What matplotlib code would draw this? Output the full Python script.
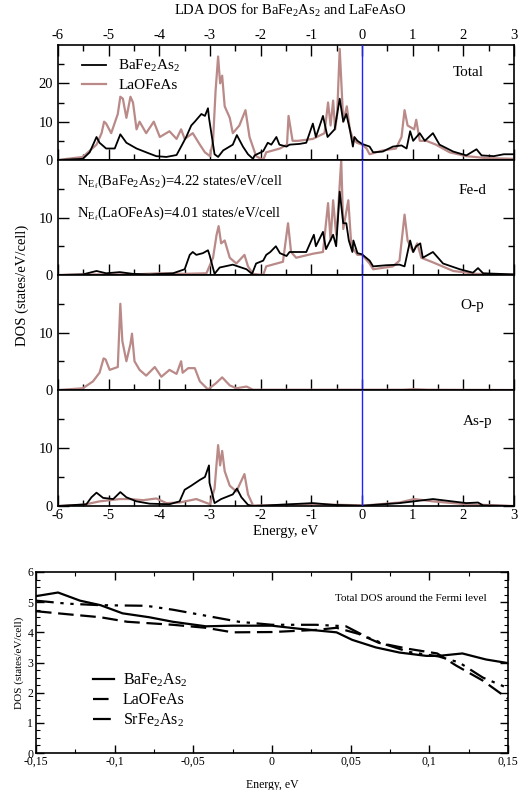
import matplotlib
matplotlib.use("Agg")
import matplotlib.pyplot as plt
from matplotlib.ticker import MultipleLocator, FixedLocator

plt.rcParams['font.family'] = ['Liberation Serif', 'DejaVu Serif']
plt.rcParams['mathtext.fontset'] = 'custom'
plt.rcParams['mathtext.rm'] = 'Liberation Serif'
plt.rcParams['mathtext.it'] = 'Liberation Serif:italic'
plt.rcParams['axes.unicode_minus'] = False

# ---------------- data ----------------
# Total DOS
tot_ba_e = [-6, -5.51, -5.375, -5.24, -5.18, -5.05, -4.88, -4.77, -4.65, -4.45, -4.22, -4.06, -3.86, -3.66,
            -3.57, -3.47, -3.37, -3.30, -3.17, -3.10, -3.04, -3.02, -2.91, -2.84, -2.74, -2.55, -2.47, -2.35,
            -2.25, -2.15, -2.12, -1.95, -1.86, -1.79, -1.69, -1.63, -1.49, -1.43, -1.23, -1.10, -0.97, -0.91,
            -0.77, -0.68, -0.54, -0.44, -0.37, -0.31, -0.24, -0.18, -0.15, -0.09, 0.0, 0.15, 0.22, 0.41,
            0.61, 0.78, 0.88, 0.95, 1.01, 1.14, 1.24, 1.40, 1.53, 1.80, 2.06, 2.26, 2.36, 2.60, 2.80, 3.0]
tot_ba_v = [0, 0.3, 2.0, 6.0, 4.5, 3.0, 3.0, 6.7, 4.5, 3.0, 1.8, 1.0, 0.8, 1.3,
            3.5, 6.0, 9.0, 10.0, 12.0, 11.5, 13.5, 11.0, 1.5, 0.8, 2.5, 4.0, 6.5, 3.5,
            1.5, 0.3, 1.2, 2.3, 4.5, 4.0, 6.0, 4.0, 3.5, 4.0, 4.2, 4.5, 9.5, 6.0,
            11.5, 6.0, 8.0, 16.0, 10.0, 12.0, 8.0, 3.5, 6.0, 5.0, 4.2, 3.5, 2.0, 2.2,
            3.5, 3.8, 3.0, 7.5, 5.0, 7.0, 5.0, 7.0, 4.0, 2.2, 1.2, 2.8, 1.2, 1.0, 1.5, 1.5]

tot_la_e = [-6, -5.51, -5.24, -5.14, -5.09, -5.05, -4.95, -4.82, -4.77, -4.72, -4.65, -4.57, -4.52, -4.45,
            -4.39, -4.26, -4.11, -3.99, -3.80, -3.66, -3.57, -3.50, -3.34, -3.20, -3.10, -3.0, -2.94, -2.89,
            -2.84, -2.80, -2.76, -2.71, -2.61, -2.55, -2.42, -2.30, -2.22, -2.09, -1.95, -1.89, -1.62, -1.48,
            -1.45, -1.37, -1.26, -0.97, -0.74, -0.67, -0.62, -0.57, -0.53, -0.49, -0.44, -0.37, -0.30, -0.24,
            -0.18, -0.10, 0.0, 0.09, 0.15, 0.41, 0.67, 0.78, 0.84, 0.90, 1.03, 1.07, 1.14, 1.27, 1.46, 1.73,
            2.06, 2.45, 3.0]
tot_la_v = [0, 0.8, 4.0, 7.0, 10.0, 9.5, 7.0, 12.0, 16.5, 16.0, 11.0, 16.5, 15.0, 8.0,
            10.0, 7.0, 10.0, 6.0, 7.5, 5.5, 8.0, 5.5, 7.0, 4.0, 2.0, 1.0, 5.0, 18.0,
            27.0, 20.0, 22.0, 14.0, 11.0, 7.0, 9.0, 13.0, 6.0, 1.0, 0.0, 2.0, 3.0, 4.0,
            11.5, 5.0, 5.0, 5.5, 7.0, 15.0, 9.0, 15.5, 8.0, 12.0, 29.0, 10.0, 14.0, 8.0,
            5.5, 4.5, 4.0, 3.0, 1.5, 2.5, 3.0, 6.0, 13.0, 9.0, 8.0, 10.5, 5.0, 5.0, 4.0, 2.0,
            1.0, 0.5, 0.3]

# Fe-d DOS
fed_ba_e = [-6, -5.51, -5.24, -5.05, -4.78, -4.52, -4.19, -3.73, -3.50, -3.40, -3.34, -3.27, -3.14, -3.04,
            -3.01, -2.91, -2.81, -2.55, -2.28, -2.17, -2.09, -1.95, -1.89, -1.81, -1.70, -1.62, -1.49, -1.43,
            -1.10, -0.95, -0.91, -0.77, -0.71, -0.57, -0.51, -0.44, -0.37, -0.31, -0.26, -0.19, -0.17, -0.09,
            0.0, 0.15, 0.22, 0.48, 0.74, 0.84, 0.95, 1.01, 1.07, 1.15, 1.20, 1.40, 1.60, 1.93, 2.19, 2.29,
            2.39, 3.0]
fed_ba_v = [0, 0.1, 0.7, 0.3, 0.5, 0.2, 0.1, 0.3, 1.0, 3.5, 4.0, 3.5, 3.8, 4.3,
            3.5, 0.2, 1.3, 1.8, 1.0, 0.2, 2.0, 2.5, 3.5, 4.0, 5.0, 3.8, 3.3, 4.0,
            4.0, 7.0, 5.0, 7.5, 4.5, 7.0, 5.0, 14.5, 9.0, 9.0, 6.0, 4.0, 6.0, 3.8,
            3.6, 2.5, 1.5, 1.7, 1.8, 1.5, 6.0, 4.0, 5.0, 5.5, 3.0, 4.0, 2.0, 1.0, 0.4, 1.2,
            0.3, 0.1]

fed_la_e = [-6, -5.5, -4.5, -3.99, -3.50, -3.07, -2.94, -2.87, -2.83, -2.78, -2.71, -2.61, -2.48, -2.32,
            -2.25, -2.15, -1.95, -1.89, -1.56, -1.46, -1.40, -1.30, -0.97, -0.77, -0.67, -0.62, -0.57,
            -0.51, -0.48, -0.41, -0.37, -0.27, -0.21, -0.09, 0.0, 0.15, 0.22, 0.61, 0.74, 0.84, 0.90, 1.01,
            1.09, 1.17, 1.40, 1.80, 2.26, 3.0]
fed_la_v = [0, 0.1, 0.1, 0.3, 0.2, 0.3, 3.0, 7.0, 8.5, 5.5, 6.0, 3.0, 2.0, 3.5,
            1.5, 0.2, 0.0, 1.5, 2.3, 9.0, 4.0, 3.0, 3.7, 4.0, 12.5, 6.0, 13.0,
            7.0, 10.0, 20.0, 8.0, 13.0, 5.0, 3.5, 3.5, 2.0, 1.0, 1.5, 2.5, 10.5, 6.0, 4.0,
            5.5, 3.0, 2.2, 0.7, 0.2, 0.05]

# O-p DOS (LaOFeAs only)
op_la_e = [-6, -5.51, -5.31, -5.18, -5.10, -5.06, -4.98, -4.82, -4.77, -4.73, -4.65, -4.57, -4.54, -4.49,
           -4.39, -4.26, -4.09, -3.96, -3.80, -3.66, -3.57, -3.54, -3.43, -3.30, -3.20, -3.04, -2.88,
           -2.76, -2.61, -2.48, -2.28, -2.15, 0.8, 1.03, 1.3, 3.0]
op_la_v = [0, 0.3, 1.5, 3.0, 5.5, 5.3, 3.5, 4.0, 15.0, 8.5, 5.0, 8.0, 9.8, 5.0,
           3.5, 2.5, 4.0, 2.3, 3.5, 2.8, 5.0, 3.0, 3.8, 3.8, 1.5, 0.1, 1.2,
           2.2, 0.8, 0.3, 0.6, 0.05, 0.05, 0.15, 0.05, 0.0]

# As-p DOS
asp_ba_e = [-6, -5.44, -5.34, -5.24, -5.11, -4.91, -4.77, -4.65, -4.45, -4.19, -3.80, -3.60, -3.50, -3.37,
            -3.20, -3.10, -3.02, -3.01, -2.91, -2.78, -2.55, -2.47, -2.38, -2.25, -2.15, -1.89, -0.97,
            -0.57, 0.0, 0.74, 1.40, 2.06, 2.29, 2.39, 3.0]
asp_ba_v = [0, 0.3, 1.5, 2.3, 1.4, 1.2, 2.4, 1.5, 0.8, 0.4, 0.3, 0.8, 2.8, 3.5,
            4.5, 5.0, 7.0, 4.0, 0.5, 1.2, 2.0, 3.0, 1.5, 0.2, 0.0, 0.1, 0.5,
            0.2, 0.05, 0.5, 1.2, 0.5, 0.6, 0.1, 0.0]

asp_la_e = [-6, -5.5, -5.18, -4.78, -4.59, -4.32, -4.06, -3.86, -3.60, -3.27, -3.0, -2.91, -2.84, -2.80,
            -2.76, -2.71, -2.61, -2.48, -2.32, -2.25, -2.15, -1.89, -0.97, 0.07, 0.74, 1.03, 1.40, 2.06, 3.0]
asp_la_v = [0, 0.2, 0.8, 1.2, 1.2, 1.0, 1.3, 0.5, 0.6, 1.2, 0.3, 3.0, 10.5, 7.0,
            9.5, 6.0, 3.5, 2.5, 5.5, 2.0, 0.1, 0.1, 0.3, 0.1, 0.6, 1.2, 0.8, 0.3, 0.0]

# Total DOS near Fermi level
fermi_e = [-0.15, -0.136, -0.122, -0.109, -0.095, -0.078, -0.063, -0.042, -0.025, 0.0, 0.017, 0.041,
           0.051, 0.066, 0.081, 0.098, 0.106, 0.121, 0.136, 0.15]
fermi_ba = [5.2, 5.32, 5.05, 4.9, 4.63, 4.5, 4.35, 4.2, 4.22, 4.22, 4.12, 4.0,
            3.75, 3.5, 3.33, 3.22, 3.22, 3.3, 3.1, 2.98]
fermi_la_e = [-0.15, -0.13, -0.109, -0.092, -0.063, -0.042, -0.025, 0.0, 0.028, 0.041, 0.055, 0.068,
              0.087, 0.105, 0.117, 0.134, 0.15]
fermi_la = [4.7, 4.6, 4.5, 4.35, 4.25, 4.15, 4.0, 4.01, 4.08, 4.15, 3.95, 3.65,
            3.45, 3.3, 2.9, 2.4, 1.8]
fermi_sr_e = [-0.15, -0.13, -0.109, -0.08, -0.063, -0.042, -0.021, 0.0, 0.028, 0.047, 0.06, 0.072,
              0.087, 0.106, 0.119, 0.134, 0.15]
fermi_sr = [5.05, 4.95, 4.9, 4.88, 4.75, 4.55, 4.35, 4.25, 4.25, 4.2, 3.85, 3.6,
            3.35, 3.2, 3.0, 2.5, 2.15]

panel_names = ['Total', 'Fe-d', 'O-p', 'As-p']
top_xticks = [-6, -5, -4, -3, -2, -1, 0, 1, 2, 3]
bottom_xticks = [-0.15, -0.1, -0.05, 0, 0.05, 0.1, 0.15]
bottom_xticklabels = ['-0,15', '-0,1', '-0,05', '0', '0,05', '0,1', '0,15']
bottom_yticks = [0, 1, 2, 3, 4, 5, 6]
series_names = [r'BaFe$_2$As$_2$', 'LaOFeAs', r'SrFe$_2$As$_2$']
nef_texts = [r'N$_{\mathrm{E}_{\mathrm{f}}}$(BaFe$_2$As$_2$)=4.22 states/eV/cell',
             r'N$_{\mathrm{E}_{\mathrm{f}}}$(LaOFeAs)=4.01 states/eV/cell']

# ---------------- figure ----------------
W, H = 519, 790
fig = plt.figure(figsize=(W / 100, H / 100), dpi=100)

BLACK = 'black'
ROSE = '#b98a88'

left_px, right_px = 58, 514
bounds = [45, 160, 275, 390, 506]
axes = []
for i in range(4):
    top, bot = bounds[i], bounds[i + 1]
    ax = fig.add_axes([left_px / W, 1 - bot / H, (right_px - left_px) / W, (bot - top) / H])
    axes.append(ax)

data_pairs = [
    ((tot_ba_e, tot_ba_v), (tot_la_e, tot_la_v)),
    ((fed_ba_e, fed_ba_v), (fed_la_e, fed_la_v)),
    (None, (op_la_e, op_la_v)),
    ((asp_ba_e, asp_ba_v), (asp_la_e, asp_la_v)),
]
label_pos = [(468, 73), (472, 190), (472, 305), (478, 422)]

for i, ax in enumerate(axes):
    ba, la = data_pairs[i]
    if ba is not None:
        ax.plot(ba[0], ba[1], color=BLACK, lw=1.3, label=series_names[0], zorder=3)
    ax.plot(la[0], la[1], color=ROSE, lw=1.6, label=series_names[1], zorder=2)
    ax.axvline(0, color='#2020ff', lw=1.0, zorder=4)
    ax.set_xlim(-6, 3)
    if i == 0:
        ax.set_ylim(0, 30)
        ax.yaxis.set_major_locator(FixedLocator([0, 10, 20]))
        ax.yaxis.set_minor_locator(FixedLocator([5, 15, 25]))
    else:
        ax.set_ylim(0, 20)
        ax.yaxis.set_major_locator(FixedLocator([0, 10]))
        ax.yaxis.set_minor_locator(FixedLocator([5, 15]))
    ax.xaxis.set_major_locator(FixedLocator(top_xticks))
    ax.xaxis.set_minor_locator(MultipleLocator(0.5))
    ax.tick_params(which='both', direction='in', left=True, right=True, labelsize=10.5)
    ax.tick_params(which='major', length=8, width=1)
    ax.tick_params(which='minor', length=4, width=1)
    if i == 0:
        ax.tick_params(axis='x', which='both', top=True, labeltop=True, bottom=True, labelbottom=False)
    elif i == 3:
        ax.tick_params(axis='x', which='both', top=False, bottom=True, labelbottom=True)
    else:
        ax.tick_params(axis='x', which='both', top=False, bottom=True, labelbottom=False)
    ax.tick_params(axis='x', pad=2)
    for s in ax.spines.values():
        s.set_linewidth(1.2)
    lx, ly = label_pos[i]
    ax.text((lx - left_px) / (right_px - left_px), 1 - (ly - bounds[i]) / (bounds[i + 1] - bounds[i]),
            panel_names[i], transform=ax.transAxes, fontsize=11, ha='center', va='center')

axes[0].legend(loc='upper left', frameon=False, fontsize=11, handlelength=1.6, handletextpad=0.8,
               labelspacing=0.25, bbox_to_anchor=(0.025, 0.99), borderaxespad=0.4)

for k, t in enumerate(nef_texts):
    fig.text(77 / W, 1 - (182 + 32 * k) / H, t, fontsize=10.5, ha='left', va='center')

fig.text(290 / W, 1 - 10 / H, r'LDA DOS for BaFe$_2$As$_2$ and LaFeAsO', fontsize=10.5, ha='center', va='center')
fig.text(22 / W, 1 - 285 / H, 'DOS (states/eV/cell)', fontsize=10.5, rotation=90, ha='center', va='center')
fig.text(286 / W, 1 - 532 / H, 'Energy, eV', fontsize=10.5, ha='center', va='center')

# bottom panel
bl, br, bt, bb = 36, 508, 572, 753
axb = fig.add_axes([bl / W, 1 - bb / H, (br - bl) / W, (bb - bt) / H])
axb.plot(fermi_e, fermi_ba, color='black', lw=1.6, label=series_names[0])
axb.plot(fermi_la_e, fermi_la, color='black', lw=1.6, linestyle=(0, (7, 3)), label=series_names[1])
axb.plot(fermi_sr_e, fermi_sr, color='black', lw=1.6, linestyle=(0, (8, 3, 1.5, 3, 1.5, 3)), label=series_names[2])
axb.set_xlim(-0.15, 0.15)
axb.set_ylim(0, 6)
axb.xaxis.set_major_locator(FixedLocator(bottom_xticks))
axb.set_xticklabels(bottom_xticklabels)
axb.xaxis.set_minor_locator(MultipleLocator(0.025))
axb.yaxis.set_major_locator(FixedLocator(bottom_yticks))
axb.yaxis.set_minor_locator(MultipleLocator(0.25))
axb.tick_params(which='both', direction='in', top=True, right=True, labelsize=8.5, pad=2)
axb.tick_params(which='major', length=6, width=1)
axb.tick_params(which='minor', length=3, width=0.8)
for s in axb.spines.values():
    s.set_linewidth(1.2)
axb.text(0.955, 0.855, 'Total DOS around the Fermi level', transform=axb.transAxes, fontsize=8,
         ha='right', va='center')
axb.legend(loc='lower left', frameon=False, fontsize=11.5, handlelength=1.3, handletextpad=0.55,
           labelspacing=0.18, bbox_to_anchor=(0.108, 0.1), borderaxespad=0)
axb.set_xlabel('Energy, eV', fontsize=8.5, labelpad=8)
axb.set_ylabel('DOS (states/eV/cell)', fontsize=8, labelpad=2)

fig.savefig('out.png', dpi=100)
